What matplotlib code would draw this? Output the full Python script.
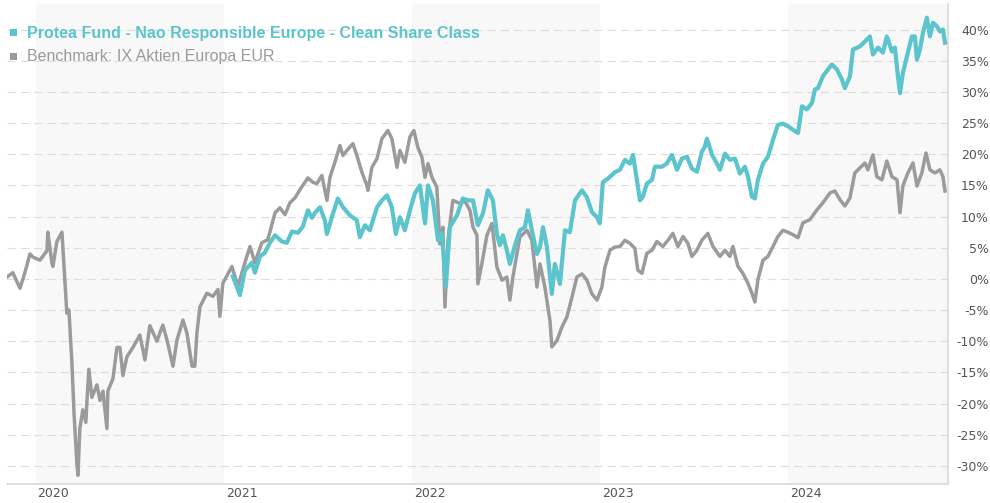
import matplotlib.pyplot as plt
import matplotlib.transforms as mtransforms
from matplotlib.patches import Rectangle

# Benchmark: IX Aktien Europa EUR (decimal year, % performance)
bench_t = [2019.848, 2019.879, 2019.917, 2019.943, 2019.970, 2019.986, 2020.023, 2020.060, 2020.065,
           2020.087, 2020.092, 2020.113, 2020.140, 2020.150, 2020.166, 2020.177, 2020.193, 2020.204,
           2020.219, 2020.225, 2020.235, 2020.251, 2020.267, 2020.273, 2020.283, 2020.299, 2020.326,
           2020.342, 2020.358, 2020.379, 2020.384, 2020.411, 2020.432, 2020.448, 2020.464, 2020.485,
           2020.517, 2020.554, 2020.581, 2020.607, 2020.645, 2020.660, 2020.676, 2020.698, 2020.730,
           2020.751, 2020.783, 2020.804, 2020.831, 2020.846, 2020.857, 2020.873, 2020.910, 2020.942,
           2020.969, 2020.979, 2020.995, 2021.032, 2021.043, 2021.075, 2021.112, 2021.139, 2021.165,
           2021.202, 2021.234, 2021.272, 2021.298, 2021.325, 2021.351, 2021.378, 2021.415, 2021.447,
           2021.473, 2021.495, 2021.521, 2021.548, 2021.564, 2021.590, 2021.617, 2021.633, 2021.654,
           2021.686, 2021.707, 2021.734, 2021.760, 2021.766, 2021.787, 2021.814, 2021.840, 2021.872,
           2021.893, 2021.920, 2021.936, 2021.962, 2021.989, 2022.010, 2022.031, 2022.053, 2022.069,
           2022.085, 2022.106, 2022.132, 2022.148, 2022.164, 2022.175, 2022.191, 2022.217, 2022.255,
           2022.281, 2022.308, 2022.324, 2022.345, 2022.350, 2022.371, 2022.398, 2022.425, 2022.451,
           2022.478, 2022.504, 2022.520, 2022.536, 2022.573, 2022.611, 2022.637, 2022.664, 2022.680,
           2022.706, 2022.733, 2022.743, 2022.770, 2022.797, 2022.823, 2022.850, 2022.876, 2022.903,
           2022.929, 2022.956, 2022.983, 2023.009, 2023.025, 2023.052, 2023.078, 2023.105, 2023.131,
           2023.158, 2023.184, 2023.200, 2023.222, 2023.248, 2023.275, 2023.301, 2023.333, 2023.360,
           2023.386, 2023.413, 2023.440, 2023.466, 2023.487, 2023.514, 2023.540, 2023.572, 2023.599,
           2023.636, 2023.663, 2023.689, 2023.705, 2023.732, 2023.758, 2023.785, 2023.806, 2023.822,
           2023.838, 2023.865, 2023.891, 2023.918, 2023.944, 2023.971, 2023.997, 2024.024, 2024.051,
           2024.077, 2024.114, 2024.152, 2024.183, 2024.221, 2024.247, 2024.274, 2024.300, 2024.327,
           2024.353, 2024.380, 2024.407, 2024.422, 2024.449, 2024.470, 2024.497, 2024.523, 2024.550,
           2024.577, 2024.593, 2024.608, 2024.635, 2024.662, 2024.683, 2024.709, 2024.731, 2024.752,
           2024.779, 2024.805, 2024.821, 2024.832]
bench_v = [0.3, 1.0, -1.5, 1.0, 4.0, 3.5, 3.0, 4.5, 7.5,
           2.5, 2.0, 6.0, 7.5, 2.5, -5.5, -5.0, -13.5, -21.5,
           -29.5, -31.5, -24.0, -21.0, -23.0, -19.5, -14.5, -19.0, -17.0,
           -19.5, -18.0, -24.0, -18.0, -16.0, -11.0, -11.0, -15.5, -12.5,
           -11.0, -9.0, -13.0, -7.5, -10.0, -8.7, -7.4, -9.8, -14.0,
           -9.8, -6.6, -8.7, -14.0, -14.0, -8.7, -4.5, -2.3, -2.8,
           -1.7, -6.0, -0.7, 1.4, 2.0, -1.2, 2.6, 5.2, 2.6,
           5.8, 6.3, 10.6, 11.4, 10.3, 12.2, 13.0, 14.8, 16.2,
           15.5, 15.3, 16.6, 12.6, 16.3, 18.7, 21.4, 19.8, 20.6,
           21.7, 19.8, 17.1, 15.0, 14.2, 17.9, 19.3, 22.5, 23.8,
           22.5, 17.9, 20.6, 18.7, 22.8, 23.8, 21.1, 19.5, 16.3,
           18.5, 16.3, 14.7, 5.6, 8.3, -4.5, 6.2, 12.6, 12.1,
           12.5, 11.0, 8.3, 7.0, -0.8, 2.4, 7.0, 8.9, 1.9,
           -0.2, 0.3, -3.4, 0.3, 6.7, 7.8, 6.2, -1.3, 2.4,
           -1.3, -6.7, -10.9, -9.9, -7.7, -6.1, -2.9, 0.3, 0.8,
           -0.2, -2.4, -3.4, -1.3, 1.9, 4.6, 5.1, 5.2, 6.2,
           5.7, 4.9, 1.4, 0.9, 4.1, 4.6, 6.0, 5.2, 6.2,
           7.3, 5.2, 6.8, 5.7, 3.6, 4.6, 6.2, 7.3, 5.2,
           3.6, 4.6, 3.6, 5.2, 2.0, 0.9, -0.7, -2.3, -3.7,
           -0.1, 3.0, 3.6, 5.2, 6.8, 7.8, 7.5, 7.1, 6.6,
           9.0, 9.5, 11.1, 12.2, 13.8, 14.1, 12.7, 11.7, 13.0,
           17.0, 17.8, 18.6, 17.5, 19.9, 16.4, 15.9, 18.9, 16.4,
           15.9, 10.6, 14.9, 17.0, 18.6, 14.9, 17.0, 20.2, 17.5,
           17.0, 17.5, 16.4, 14.1]

# Protea Fund - Nao Responsible Europe - Clean Share Class
fund_t = [2021.048, 2021.086, 2021.112, 2021.150, 2021.165, 2021.192, 2021.218, 2021.245, 2021.272,
          2021.309, 2021.335, 2021.362, 2021.394, 2021.420, 2021.447, 2021.468, 2021.484, 2021.511,
          2021.537, 2021.548, 2021.574, 2021.606, 2021.633, 2021.670, 2021.707, 2021.723, 2021.750,
          2021.776, 2021.814, 2021.840, 2021.867, 2021.893, 2021.914, 2021.936, 2021.962, 2021.989,
          2022.015, 2022.042, 2022.069, 2022.085, 2022.111, 2022.138, 2022.159, 2022.180, 2022.201,
          2022.239, 2022.270, 2022.297, 2022.324, 2022.350, 2022.377, 2022.403, 2022.430, 2022.451,
          2022.467, 2022.483, 2022.504, 2022.520, 2022.547, 2022.573, 2022.600, 2022.616, 2022.637,
          2022.664, 2022.680, 2022.696, 2022.717, 2022.743, 2022.759, 2022.786, 2022.813, 2022.839,
          2022.866, 2022.903, 2022.929, 2022.956, 2022.983, 2022.998, 2023.014, 2023.041, 2023.078,
          2023.105, 2023.131, 2023.158, 2023.174, 2023.195, 2023.211, 2023.227, 2023.248, 2023.275,
          2023.291, 2023.328, 2023.354, 2023.381, 2023.408, 2023.434, 2023.461, 2023.487, 2023.514,
          2023.540, 2023.556, 2023.567, 2023.594, 2023.620, 2023.636, 2023.663, 2023.689, 2023.716,
          2023.742, 2023.769, 2023.785, 2023.806, 2023.822, 2023.838, 2023.865, 2023.891, 2023.918,
          2023.944, 2023.971, 2023.997, 2024.035, 2024.051, 2024.072, 2024.098, 2024.125, 2024.141,
          2024.157, 2024.183, 2024.210, 2024.231, 2024.258, 2024.284, 2024.300, 2024.327, 2024.343,
          2024.380, 2024.407, 2024.433, 2024.449, 2024.476, 2024.502, 2024.523, 2024.550, 2024.566,
          2024.582, 2024.593, 2024.608, 2024.635, 2024.656, 2024.672, 2024.683, 2024.699, 2024.715,
          2024.736, 2024.752, 2024.768, 2024.789, 2024.805, 2024.821, 2024.832]
fund_v = [0.4, -2.6, 1.4, 2.6, 1.0, 3.6, 4.2, 5.8, 7.0,
          6.0, 5.8, 7.6, 7.4, 8.4, 11.0, 9.8, 10.6, 11.5,
          9.4, 7.2, 9.9, 12.9, 11.5, 10.2, 9.4, 6.7, 8.6,
          7.8, 11.5, 12.6, 13.4, 11.5, 7.2, 9.9, 7.8, 11.0,
          13.7, 15.0, 8.9, 15.0, 12.6, 6.2, 7.3, -1.3, 8.3,
          10.2, 12.9, 12.6, 12.6, 8.6, 10.5, 14.2, 12.6, 7.2,
          5.4, 7.0, 4.6, 2.4, 5.4, 7.8, 8.3, 11.0, 7.8,
          4.0, 5.1, 8.3, 5.1, -2.4, 2.4, -0.8, 7.8, 7.5,
          12.6, 14.2, 13.1, 10.7, 9.9, 8.9, 15.5, 16.1, 17.1,
          17.5, 19.1, 18.5, 19.9, 15.9, 12.6, 13.2, 15.3, 15.9,
          18.0, 18.0, 18.5, 19.9, 17.5, 19.3, 19.6, 17.7, 17.2,
          20.4, 21.2, 22.5, 19.9, 18.5, 17.5, 20.1, 19.1, 19.3,
          16.9, 18.0, 16.4, 13.2, 12.9, 15.9, 18.5, 19.6, 22.3,
          24.7, 24.9, 24.5, 23.7, 23.4, 27.7, 27.2, 28.2, 30.4,
          30.6, 32.5, 33.6, 34.4, 33.6, 32.0, 30.6, 32.5, 36.8,
          37.3, 38.1, 38.9, 36.0, 37.1, 36.3, 38.9, 36.5, 37.1,
          32.5, 29.8, 33.0, 36.3, 38.9, 38.9, 35.2, 36.8, 39.5,
          41.9, 38.9, 41.1, 40.5, 39.7, 40.0, 37.9]

years = [2020, 2021, 2022, 2023, 2024]
shaded_years = [2020, 2022, 2024]
y_ticks = list(range(-30, 45, 5))

teal = "#5bc4cc"
grey = "#9b9b9b"
x_start, x_end = 2019.848, 2024.848

fig = plt.figure(figsize=(9.9, 5.03), dpi=100)
ax = fig.add_axes([7 / 990, 19 / 503, 941 / 990, 480 / 503])
ax.set_xlim(x_start, x_end)
ax.set_ylim(-32.9, 44.1)

# alternating year bands
for yr in shaded_years:
    ax.axvspan(yr, min(yr + 1, x_end), color="#f8f8f8", zorder=0, lw=0)

# dashed grid
for v in y_ticks:
    ax.axhline(v, color="#dddddd", lw=0.8, dashes=(7.5, 4.5), zorder=1)

ax.plot(bench_t, bench_v, color=grey, lw=2.5, zorder=3, solid_joinstyle="round")
ax.plot(fund_t, fund_v, color=teal, lw=3.0, zorder=4, solid_joinstyle="round")

# axes styling
for s in ["top", "left"]:
    ax.spines[s].set_visible(False)
for s in ["right", "bottom"]:
    ax.spines[s].set_color("#d9d9d9")
    ax.spines[s].set_linewidth(1.2)

ax.yaxis.tick_right()
ax.set_yticks(y_ticks)
ax.set_yticklabels([f"{v}%" for v in y_ticks])
ax.tick_params(axis="y", length=0, pad=29.5, labelsize=9, labelcolor="#555555")
for lab in ax.get_yticklabels():
    lab.set_horizontalalignment("right")

ax.set_xticks(years)
ax.set_xticklabels([str(y) for y in years])
ax.tick_params(axis="x", length=0, pad=2, labelsize=9, labelcolor="#555555")
shift = mtransforms.ScaledTranslation(2 / 100, 0, fig.dpi_scale_trans)
for lab in ax.get_xticklabels():
    lab.set_horizontalalignment("left")
    lab.set_transform(lab.get_transform() + shift)

# legend
fig.add_artist(Rectangle((10 / 990, 1 - 36 / 503), 7 / 990, 7 / 503,
                         transform=fig.transFigure, color=teal, lw=0))
fig.add_artist(Rectangle((10 / 990, 1 - 60 / 503), 7 / 990, 7 / 503,
                         transform=fig.transFigure, color=grey, lw=0))
fig.text(27 / 990, 1 - 33 / 503, "Protea Fund - Nao Responsible Europe - Clean Share Class",
         color=teal, fontsize=11.5, fontweight="bold", family="Liberation Sans", va="center")
fig.text(27 / 990, 1 - 57 / 503, "Benchmark: IX Aktien Europa EUR",
         color=grey, fontsize=11.5, family="Liberation Sans", va="center")

plt.savefig("out.png", dpi=100)
